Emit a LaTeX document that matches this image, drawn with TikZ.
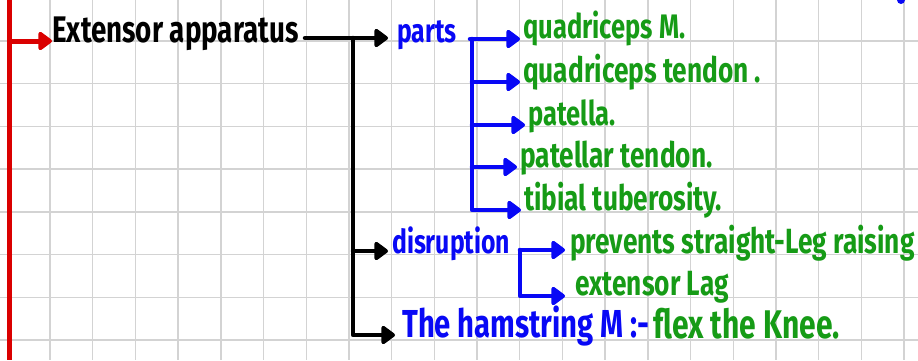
\documentclass[tikz,border=0pt]{standalone}
\usepackage{fontspec}
\usetikzlibrary{arrows.meta}
\newfontfamily\hand[FakeStretch=0.75]{Fira Sans}
\definecolor{gridgray}{RGB}{211,211,211}
\definecolor{penred}{RGB}{218,0,0}
\definecolor{penblue}{RGB}{8,8,245}
\definecolor{pengreen}{RGB}{22,155,22}
\tikzset{
  gridline/.style={draw=gridgray, line width=1.4pt},
  redpen/.style={draw=penred, line width=5pt},
  blackpen/.style={draw=black, line width=4.5pt, line cap=round, line join=round},
  bluepen/.style={draw=penblue, line width=4.5pt, line cap=round, line join=round},
  tip/.style={-{Triangle[round,length=15pt,width=21pt]}},
  word/.style={anchor=base west, inner sep=0pt, font=\hand\bfseries\fontsize{#1}{#1}\selectfont},
  word/.default=34,
}
\begin{document}
\begin{tikzpicture}[x=1pt,y=-1pt]
\useasboundingbox (0,0) rectangle (918,360);
\fill[white] (0,0) rectangle (918,360);
% squared paper
\foreach \gx in {0,...,21}
  \draw[gridline] ({7.3+42.7*\gx},0) -- ({7.3+42.7*\gx},360);
\foreach \gy in {0,...,7}
  \draw[gridline] (0,{41+42.7*\gy}) -- (918,{41+42.7*\gy});
% margin
\draw[redpen] (9,0) -- (9,360);
\fill[penblue] (901,0) circle (4);
% headings
\node[word=37, text=black] (ext) at (52,42) {Extensor apparatus};
\node[word=33, text=penblue] (parts) at (397,42) {parts};
\node[word=33, text=penblue] (dis) at (392,253) {disruption};
\node[word=39, text=penblue] (ham) at (402,337) {The hamstring M :-};
% items
\node[word, text=pengreen] (q1) at (523,38) {quadriceps M.};
\node[word=35, text=pengreen] (q2) at (523,82) {quadriceps tendon .};
\node[word, text=pengreen] (q3) at (528,125) {patella.};
\node[word=35, text=pengreen] (q4) at (520,167) {patellar tendon.};
\node[word=35, text=pengreen] (q5) at (524,210) {tibial tuberosity.};
\node[word=35, text=pengreen] (s1) at (570,253) {prevents straight-Leg raising};
\node[word=35, text=pengreen] (s2) at (575,295) {extensor Lag};
\node[word=40, text=pengreen] (flex) at (653,338) {flex the Knee.};
% red arrow
\coordinate (rj) at (9,41);
\draw[redpen, tip] (rj) -- (rj -| ext.west);
% black tree
\coordinate (ks) at (305,38);
\coordinate (kt) at (353,38);
\draw[blackpen, tip, shorten >=9pt] (ks) -- (ks -| parts.west);
\draw[blackpen, tip, shorten >=4pt] (kt |- 0,251) -- (dis.west |- 0,251);
\draw[blackpen, tip, shorten >=7pt] (kt) |- (ham.west |- 0,335);
% blue tree for parts
\coordinate (pa) at (470,39);
\coordinate (pb) at (472,39);
\draw[bluepen, tip, shorten >=3pt] (pa) -- (pa -| q1.west);
\foreach \n in {q2,q3,q4}
  \draw[bluepen, tip, shorten >=3pt] (pb |- \n.base) -- (\n.base west);
\draw[bluepen, tip, shorten >=3pt] (pb) |- (q5.base west);
% blue bracket for disruption
\coordinate (da) at (520,250);
\draw[bluepen, tip, shorten >=5pt] (da) -- (da -| s1.west);
\draw[bluepen, tip, shorten >=10pt] (da) |- (s2.west |- 0,296);
\end{tikzpicture}
\end{document}
